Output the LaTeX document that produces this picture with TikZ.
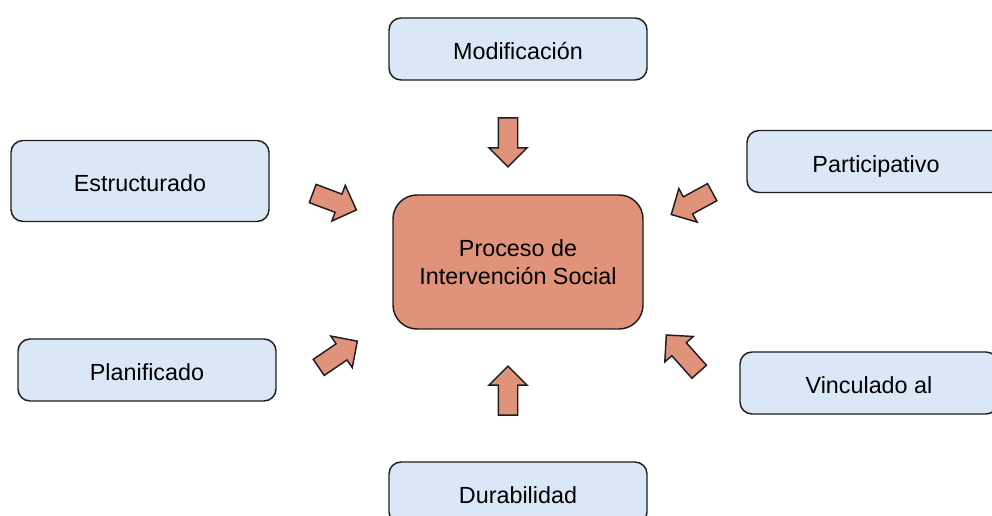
\documentclass[tikz,border=0pt]{standalone}
\usepackage{fontspec}
\setmainfont{Liberation Sans}
\usetikzlibrary{shapes.arrows}
\definecolor{boxblue}{HTML}{DAE7F6}
\definecolor{salmon}{HTML}{E0927A}
\definecolor{edge}{HTML}{1E1E1E}

\begin{document}
\begin{tikzpicture}[x=0.75pt,y=-0.75pt,
  font=\fontsize{17.5}{21}\selectfont,
  item/.style={draw=edge,line width=1.1pt,fill=boxblue,rounded corners=9pt,
    minimum width=193.5pt,minimum height=46.5pt,align=center,
    text height=16pt,text depth=0pt},
  core/.style={draw=edge,line width=1.1pt,fill=salmon,rounded corners=18pt,
    minimum width=187.5pt,minimum height=100.5pt,align=center},
  push/.style={single arrow,draw=edge,line width=1.1pt,fill=salmon,
    inner sep=6.75pt,minimum width=0pt,minimum height=36.75pt,
    single arrow head extend=7pt,single arrow head indent=0pt}]
\clip (0,0) rectangle (992,516);
\useasboundingbox (0,0) rectangle (992,516);

\node[core] (proceso) at (518,262) {Proceso de\\Intervención Social};

\node[item] (modif) at (518,49) {Modificación};
\node[item,minimum height=60.75pt] (estruct) at (140,181) {Estructurado};
\node[item] (partic) at (876,161.5) {Participativo};
\node[item] (planif) at (147,370) {Planificado};
\node[item] (vincul) at (869,383) {Vinculado al};
\node[item] (durab) at (518,493) {Durabilidad};

\node[push,rotate=-90] (amodif) at (508,137.5) {};
\node[push,rotate=-20.6,minimum height=35pt] (aestruct) at (330,200) {};
\node[push,rotate=-151.4,minimum height=35pt] (apartic) at (696,201) {};
\node[push,rotate=34.2,minimum height=35pt] (aplanif) at (334,357) {};
\node[push,rotate=131.8,minimum height=37pt] (avincul) at (686,357) {};
\node[push,rotate=90] (adurab) at (508,395.5) {};
\end{tikzpicture}
\end{document}
